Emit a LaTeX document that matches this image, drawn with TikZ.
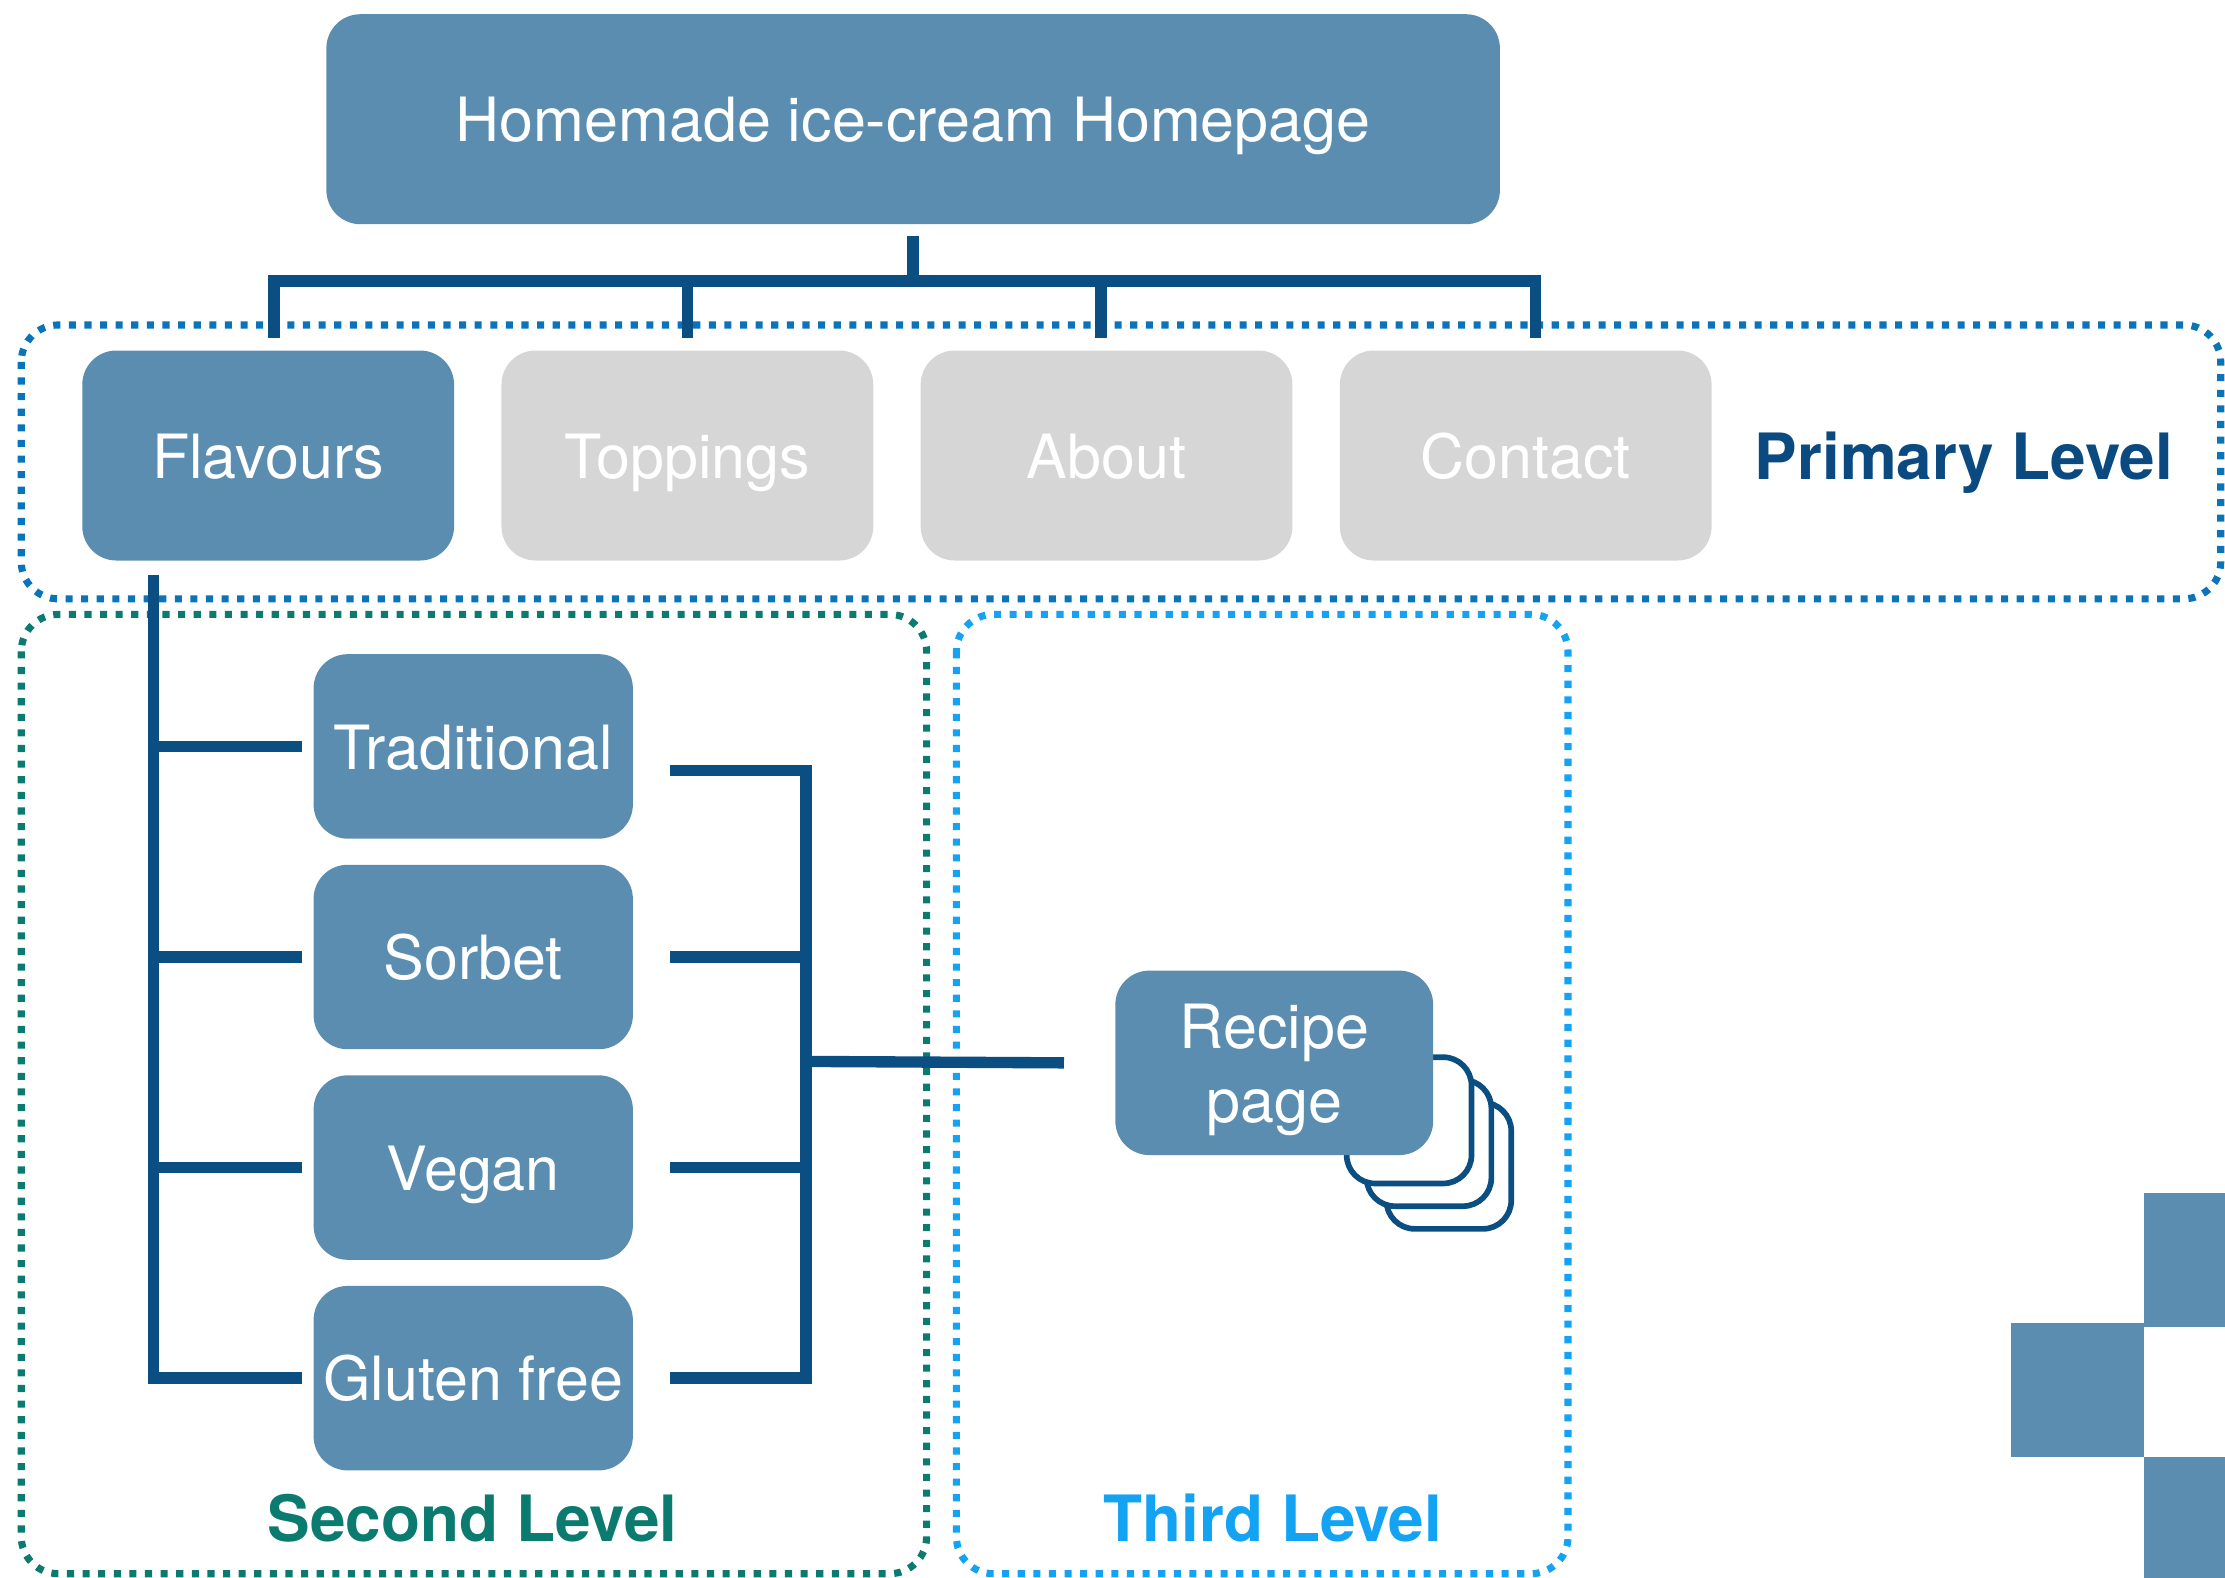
\documentclass[tikz,border=0pt]{standalone}
\usepackage{fontspec}
\setmainfont{TeX Gyre Heros}
\usetikzlibrary{positioning}

\definecolor{boxblue}{HTML}{5A8DB0}
\definecolor{linkblue}{HTML}{0B4F82}
\definecolor{primblue}{HTML}{0A74BA}
\definecolor{secteal}{HTML}{0B7B70}
\definecolor{thirdblue}{HTML}{14A2F2}
\definecolor{offgrey}{HTML}{D6D6D6}
\definecolor{primtext}{HTML}{0B4A80}

\tikzset{
	page/.style={rectangle, rounded corners=24pt, fill=boxblue, text=white, inner sep=0pt, font=\fontsize{43}{52}\selectfont, align=center, text height=32pt, text depth=0pt},
	primpage/.style={page, minimum width=262pt, minimum height=148pt},
	offpage/.style={primpage, fill=offgrey},
	subpage/.style={page, minimum width=225pt, minimum height=130pt},
	link/.style={draw=linkblue, line width=8pt},
	frame/.style={line width=5pt, dash pattern=on 5pt off 6pt, rounded corners=26pt},
	levellabel/.style={font=\bfseries\fontsize{45}{52}\selectfont},
	stack/.style={draw=linkblue, line width=4pt, fill=white, rounded corners=20pt}
}

\begin{document}
\begin{tikzpicture}[x=1pt,y=-1pt]
	\useasboundingbox (0,0) rectangle (1568,1112);
	\draw[frame, primblue] (15,229) rectangle (1565,422);
	\draw[frame, secteal] (15,433) rectangle (653,1109);
	\draw[frame, thirdblue] (674,433) rectangle (1105,1109);

	\node[page, minimum width=827pt, minimum height=148pt] (home) at (643.5,84) {Homemade ice-cream Homepage};
	\node[primpage] (flav) at (189,321) {Flavours};
	\node[offpage, right=33pt of flav] (topp) {Toppings};
	\node[offpage, right=33pt of topp] (about) {About};
	\node[offpage, right=33pt of about] (cont) {Contact};

	\node[subpage] (trad) at (333.5,526) {Traditional};
	\node[subpage, below=18pt of trad] (sorb) {Sorbet};
	\node[subpage, below=18pt of sorb] (vegan) {Vegan};
	\node[subpage, below=18pt of vegan] (gluten) {Gluten free};

	\foreach \i in {2,1,0} \draw[stack] (949+14*\i,745+16*\i) rectangle ++(88,89);
	\node[page, minimum width=224pt, minimum height=130pt, text height=84pt] (recipe) at (898,749) {Recipe\\page};

	\coordinate (bar) at (643.5,198);
	\draw[link] ([yshift=-8pt]home.south) -- (bar);
	\draw[link] ([xshift=0pt]flav.north |- bar) -- ([xshift=11pt]cont.north |- bar);
	\foreach \n/\dx in {flav/4,topp/0,about/-4,cont/7} \draw[link] ([xshift=\dx pt]\n.north |- bar) -- ++(0,40);

	\coordinate (spine) at (108,405);
	\draw[link] (spine) -- ([yshift=-4pt]spine |- gluten.center);
	\foreach \n in {trad,sorb,vegan,gluten} \draw[link] ([xshift=-8pt]\n.west) -- (\n.west -| spine);

	\coordinate (join) at (568,748);
	\foreach \n/\dy in {trad/-17,sorb/0,vegan/0,gluten/0} \draw[link] ([xshift=26pt,yshift=\dy pt]\n.east) coordinate (s) -- (s -| join);
	\draw[link] ([yshift=-13pt]trad.east -| join) -- ([yshift=-4pt]gluten.east -| join);
	\draw[link] (join) -- ([xshift=-36pt]recipe.west);

	\fill[boxblue] (1511,841) rectangle (1568,935);
	\fill[boxblue] (1417,932) rectangle (1511,1027);
	\fill[boxblue] (1511,1027) rectangle (1568,1112);

	\node[levellabel, text=primtext] (prim) at (1384,326) {Primary Level};
	\node[levellabel, text=secteal] (second) at (333,1070) {Second Level};
	\node[levellabel, text=thirdblue] (third) at (897,1070) {Third Level};
\end{tikzpicture}
\end{document}
